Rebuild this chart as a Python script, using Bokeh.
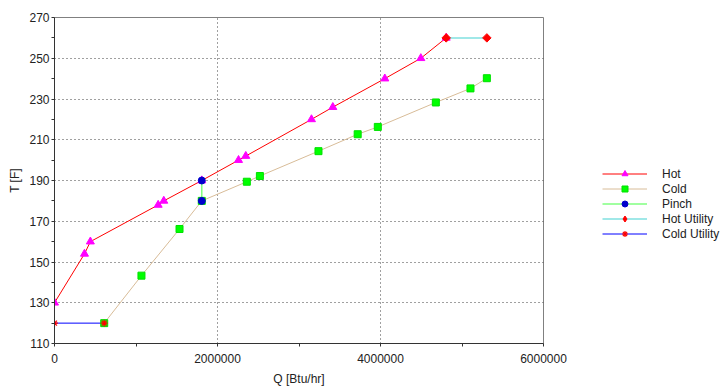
from bokeh.plotting import figure
from bokeh.layouts import row
from bokeh.models import FixedTicker, Legend, LegendItem
from bokeh.embed import file_html
from bokeh.resources import INLINE
import math

# ---- data ----
hot_q = [0, 368000, 440000, 1272000, 1341000, 1807000, 2258000, 2347000,
         3153000, 3415000, 4053000, 4495000, 4806000]
hot_t = [130, 154, 160, 178, 180, 190, 200, 202, 220, 226, 240, 250, 260]

cold_q = [610000, 1067000, 1534000, 1807000, 2360000, 2520000, 3239000,
          3720000, 3967000, 4679000, 5104000, 5305000]
cold_t = [120, 143.3, 166.2, 180, 189.4, 192.2, 204.4, 212.7, 216.3,
          228.3, 235.2, 240.2]

pinch_q = [1807000, 1807000]
pinch_t = [190, 180]

hot_util_q = [4806000, 5305000]
hot_util_t = [260, 260]

cold_util_q = [0, 610000]
cold_util_t = [120, 120]

series_names = ["Hot", "Cold", "Pinch", "Hot Utility", "Cold Utility"]

x_ticks = [0, 2000000, 4000000, 6000000]
x_tick_labels = ["0", "2000000", "4000000", "6000000"]
x_minor = [1000000, 3000000, 5000000]
y_ticks = [110, 130, 150, 170, 190, 210, 230, 250, 270]
y_minor = [120, 140, 160, 180, 200, 220, 240, 260]

FONT = "Liberation Sans"
TXT = "#222222"

# style per series: (line color, line width, marker, marker size, fill, edge, angle)
styles = [
    ("#FF0000", 1, "triangle", 8, "#FF00FF", "#FF00FF", 0),
    ("#D8BC98", 1, "square", 7, "#00FF00", "#00E000", 0),
    ("#80FF80", 1.5, "circle", 7, "#0000CC", "#0000CC", 0),
    ("#80E0E0", 1.5, "square", 6, "#FF0000", "#FF0000", math.pi / 4),
    ("#0000FF", 1, "asterisk", 7, None, "#FF0000", 0),
]
# legend swatch markers (angle is not applied in legend swatches)
legend_markers = [("triangle", 8), ("square", 7), ("circle", 7),
                  ("diamond", 10), ("asterisk", 8)]

p = figure(width=580, height=388, output_backend="svg", toolbar_location=None,
           x_range=(0, 6000000), y_range=(110, 270),
           min_border_left=54, min_border_right=37,
           min_border_top=17, min_border_bottom=43)

p.outline_line_color = "#808080"
p.outline_line_width = 1
p.background_fill_color = "white"
p.border_fill_color = "white"

# axes
p.xaxis.ticker = FixedTicker(ticks=x_ticks, minor_ticks=x_minor)
p.yaxis.ticker = FixedTicker(ticks=y_ticks, minor_ticks=y_minor)
p.xaxis.major_label_overrides = {t: l for t, l in zip(x_ticks, x_tick_labels)}
p.yaxis.major_label_overrides = {t: str(t) for t in y_ticks}
p.xaxis.axis_label = "Q [Btu/hr]"
p.yaxis.axis_label = "T [F]"
for ax in (p.xaxis[0], p.yaxis[0]):
    ax.axis_line_color = "#333333"
    ax.major_tick_line_color = "#333333"
    ax.minor_tick_line_color = "#333333"
    ax.major_tick_out = 3
    ax.major_tick_in = 0
    ax.minor_tick_out = 3
    ax.minor_tick_in = 0
    ax.major_label_text_font = FONT
    ax.major_label_text_font_size = "12px"
    ax.major_label_text_color = TXT
    ax.axis_label_text_font = FONT
    ax.axis_label_text_font_size = "12px"
    ax.axis_label_text_font_style = "normal"
    ax.axis_label_text_color = TXT
p.xaxis.major_label_standoff = 7
p.xaxis.axis_label_standoff = 6
p.yaxis.major_label_standoff = 2
p.yaxis.axis_label_standoff = 4

# grid
p.xgrid.ticker = FixedTicker(ticks=[2000000, 4000000])
p.ygrid.ticker = FixedTicker(ticks=[130, 150, 170, 190, 210, 230, 250])
for g in (p.xgrid[0], p.ygrid[0]):
    g.grid_line_color = "#404040"
    g.grid_line_dash = "1 3"
    g.grid_line_width = 1

data = [(hot_q, hot_t), (cold_q, cold_t), (pinch_q, pinch_t),
        (hot_util_q, hot_util_t), (cold_util_q, cold_util_t)]

# lines first, then markers on top
for (xs, ys), st in zip(data, styles):
    p.line(xs, ys, line_color=st[0], line_width=st[1])
for (xs, ys), st in zip(data, styles):
    p.scatter(xs, ys, marker=st[2], size=st[3], fill_color=st[4],
              line_color=st[5], angle=st[6],
              line_width=1.2 if st[2] == "asterisk" else 1)

# ---- legend panel (separate canvas to the right) ----
lg = figure(width=140, height=388, output_backend="svg", toolbar_location=None,
            x_range=(0, 1), y_range=(0, 1),
            min_border_left=0, min_border_right=0,
            min_border_top=0, min_border_bottom=0)
lg.axis.visible = False
lg.grid.visible = False
lg.outline_line_color = None
lg.background_fill_color = "white"
lg.border_fill_color = "white"

items = []
for name, st, (mk, ms) in zip(series_names, styles, legend_markers):
    # legend-only proxies, placed outside the visible range
    r1 = lg.line([-10], [-10], line_color=st[0], line_width=st[1])
    r2 = lg.scatter([-10], [-10], marker=mk, size=ms, fill_color=st[4],
                    line_color=st[5],
                    line_width=1.2 if mk == "asterisk" else 1)
    items.append(LegendItem(label=name, renderers=[r1, r2]))

legend = Legend(items=items, location=(22, 102))
legend.border_line_color = None
legend.background_fill_alpha = 0
legend.padding = 0
legend.margin = 0
legend.spacing = 0
legend.glyph_width = 45
legend.glyph_height = 15
legend.label_height = 15
legend.label_standoff = 15
legend.label_text_font = FONT
legend.label_text_font_size = "12px"
legend.label_text_color = TXT
lg.add_layout(legend, "center")

layout = row(p, lg, spacing=0)
open("out.html", "w").write(file_html(layout, INLINE))
